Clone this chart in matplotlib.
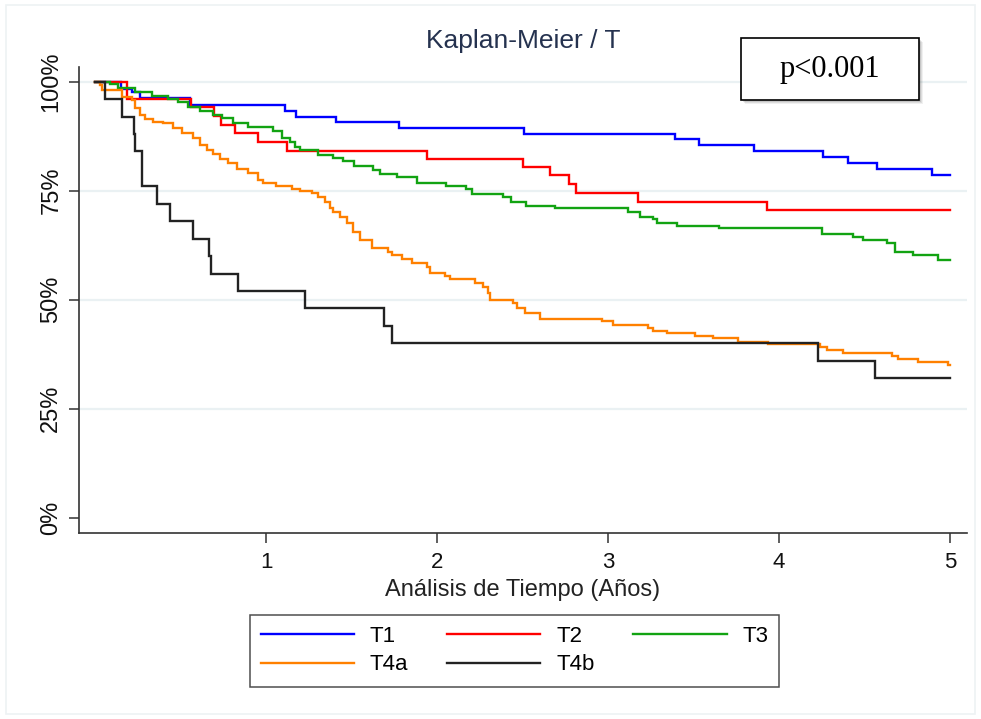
import matplotlib
matplotlib.use("Agg")
import matplotlib.pyplot as plt
from matplotlib.patches import Rectangle
from matplotlib.ticker import FixedLocator, FuncFormatter

plt.rcParams['font.family'] = ['Liberation Sans', 'DejaVu Sans']

# ---- data (time in years, survival in %) ----
t1_time = [0, 0.150, 0.215, 0.266, 0.556, 1.113, 1.177, 1.409, 1.780, 2.511,
           3.392, 3.532, 3.856, 4.256, 4.405, 4.571, 4.893, 5.0]
t1_surv = [100, 98.4, 97.6, 96.2, 94.7, 93.3, 92.0, 90.7, 89.4, 88.1,
           86.8, 85.5, 84.1, 82.8, 81.4, 80.0, 78.6, 78.6]

t2_time = [0, 0.187, 0.561, 0.693, 0.737, 0.819, 0.956, 1.120, 1.940, 2.505,
           2.661, 2.772, 2.813, 3.177, 3.928, 5.0]
t2_surv = [100, 96.0, 94.2, 92.2, 90.1, 88.3, 86.2, 84.2, 82.3, 80.4,
           78.5, 76.5, 74.4, 72.5, 70.6, 70.6]

t3_time = [0, 0.088, 0.136, 0.234, 0.332, 0.429, 0.487, 0.544, 0.614, 0.692,
           0.741, 0.809, 0.896, 1.043, 1.092, 1.140, 1.170, 1.199, 1.306, 1.394,
           1.452, 1.515, 1.623, 1.667, 1.764, 1.881, 2.053, 2.170, 2.203, 2.383,
           2.433, 2.520, 2.690, 3.119, 3.184, 3.265, 3.285, 3.402, 3.651, 4.250,
           4.435, 4.493, 4.630, 4.678, 4.785, 4.931, 5.0]
t3_surv = [100, 99.4, 98.5, 97.7, 96.8, 96.0, 95.3, 94.3, 93.3, 92.4,
           91.6, 90.6, 89.7, 88.7, 87.2, 86.2, 85.1, 84.3, 83.2, 82.6,
           81.8, 80.6, 79.7, 78.8, 78.1, 76.7, 76.1, 75.4, 74.3, 73.6,
           72.3, 71.6, 71.0, 70.2, 69.0, 68.4, 67.7, 67.0, 66.4, 65.1,
           64.4, 63.7, 62.9, 61.0, 60.3, 59.1, 59.1]

t4a_time = [0, 0.029, 0.039, 0.156, 0.215, 0.234, 0.263, 0.292, 0.341, 0.400,
            0.458, 0.507, 0.575, 0.614, 0.653, 0.692, 0.731, 0.780, 0.829, 0.896,
            0.955, 0.984, 1.058, 1.150, 1.199, 1.267, 1.306, 1.345, 1.374, 1.394,
            1.433, 1.472, 1.511, 1.550, 1.618, 1.715, 1.735, 1.794, 1.852, 1.940,
            1.959, 2.047, 2.076, 2.222, 2.271, 2.300, 2.310, 2.446, 2.466, 2.515,
            2.602, 2.963, 3.031, 3.236, 3.265, 3.343, 3.509, 3.616, 3.762, 3.937,
            4.240, 4.279, 4.376, 4.659, 4.698, 4.815, 4.990, 5.0]
t4a_surv = [100, 99.2, 98.2, 96.6, 95.8, 93.9, 92.4, 91.4, 90.8, 90.5,
            89.3, 88.2, 87.0, 85.5, 84.3, 83.4, 82.3, 81.3, 80.0, 79.0,
            77.5, 76.7, 76.1, 75.4, 74.9, 74.4, 73.5, 72.3, 71.0, 70.2,
            69.0, 67.5, 65.6, 63.7, 61.8, 61.0, 60.3, 59.3, 58.5, 57.6,
            56.1, 55.4, 54.7, 53.8, 53.0, 51.5, 49.9, 49.2, 48.0, 46.9,
            45.5, 45.0, 44.2, 43.6, 42.9, 42.3, 41.7, 41.1, 40.4, 39.8,
            39.2, 38.5, 37.7, 37.1, 36.3, 35.8, 35.0, 35.0]

t4b_time = [0, 0.057, 0.160, 0.228, 0.234, 0.273, 0.364, 0.439, 0.571, 0.669,
            0.678, 0.834, 1.228, 1.690, 1.735, 4.230, 4.560, 5.0]
t4b_surv = [100, 96, 92, 88, 84, 76, 72, 68, 64, 60,
            56, 52, 48, 44, 40, 36, 32, 32]

series_labels = ['T1', 'T2', 'T3', 'T4a', 'T4b']
series_colors = ['#0000ff', '#ff0000', '#12a312', '#ff8000', '#222222']
x_ticks = [1, 2, 3, 4, 5]
y_ticks = [0, 25, 50, 75, 100]
title_text = 'Kaplan-Meier / T'
xlabel_text = 'Análisis de Tiempo (Años)'
pvalue_text = 'p<0.001'

W, H = 981, 719
fig = plt.figure(figsize=(W / 100, H / 100), dpi=100)
fig.patch.set_facecolor('white')

# faint outer border (graph region)
fig.patches.append(Rectangle((6 / W, 1 - 714 / H), (975 - 6) / W, (714 - 5) / H,
                             transform=fig.transFigure, fill=False,
                             edgecolor='#eef2f4', lw=1.2))

ax = fig.add_axes([79 / W, 1 - 533 / H, (967 - 79) / W, (533 - 67) / H])
ax.set_xlim(-0.0936, 5.099)
ax.set_ylim(-3.51, 103.37)

for yv in y_ticks[1:]:
    ax.axhline(yv, color='#eaf1f3', lw=1.6, zorder=0)

all_series = [(t1_time, t1_surv), (t2_time, t2_surv), (t3_time, t3_surv),
              (t4a_time, t4a_surv), (t4b_time, t4b_surv)]
handles = []
for (tt, ss), lab, col in zip(all_series, series_labels, series_colors):
    h, = ax.step(tt, ss, where='post', color=col, lw=1.7, label=lab,
                 solid_joinstyle='miter')
    handles.append(h)

for s in ['top', 'right']:
    ax.spines[s].set_visible(False)
for s in ['left', 'bottom']:
    ax.spines[s].set_color('#333333')
    ax.spines[s].set_linewidth(1.2)

ax.xaxis.set_major_locator(FixedLocator(x_ticks))
ax.yaxis.set_major_locator(FixedLocator(y_ticks))
ax.yaxis.set_major_formatter(FuncFormatter(lambda v, p: f'{int(v)}%'))
ax.tick_params(axis='both', direction='out', length=7, width=1.1,
               color='#333333', labelsize=16, labelcolor='#111111')
ax.tick_params(axis='y', labelsize=17, pad=5)
ax.tick_params(axis='x', pad=7)
for lab in ax.get_yticklabels():
    lab.set_rotation(90)
    lab.set_va('center')

ax.set_title(title_text, fontsize=19, color='#25324f', pad=14)
ax.set_xlabel(xlabel_text, fontsize=17, color='#222222', labelpad=4)

# legend ordered row-wise
order = [0, 3, 1, 4, 2]
leg = fig.legend([handles[i] for i in order], [series_labels[i] for i in order],
                 ncol=3, loc='center', bbox_to_anchor=(514.5 / W, 1 - 650.5 / H),
                 fontsize=16, frameon=True, fancybox=False, edgecolor='#222222',
                 handlelength=4.2, handletextpad=0.7, columnspacing=1.75,
                 labelspacing=0.35, borderpad=0.5)
leg.get_frame().set_linewidth(1.1)

# p-value box with shadow
bx0, by0, bx1, by1 = 741, 38, 919, 100
for i, a in enumerate([0.10, 0.08, 0.06]):
    off = 2 + i
    fig.patches.append(Rectangle(((bx0 + off) / W, 1 - (by1 + off) / H),
                                 (bx1 - bx0) / W, (by1 - by0) / H,
                                 transform=fig.transFigure, facecolor='black',
                                 edgecolor='none', alpha=a, zorder=5))
fig.patches.append(Rectangle((bx0 / W, 1 - by1 / H), (bx1 - bx0) / W, (by1 - by0) / H,
                             transform=fig.transFigure, facecolor='white',
                             edgecolor='black', lw=1.2, zorder=6))
fig.text((bx0 + bx1) / 2 / W, 1 - (by0 + by1) / 2 / H, pvalue_text,
         family=['Liberation Serif', 'DejaVu Serif'], fontsize=22,
         ha='center', va='center', zorder=7)

fig.savefig('out.png', dpi=100)
